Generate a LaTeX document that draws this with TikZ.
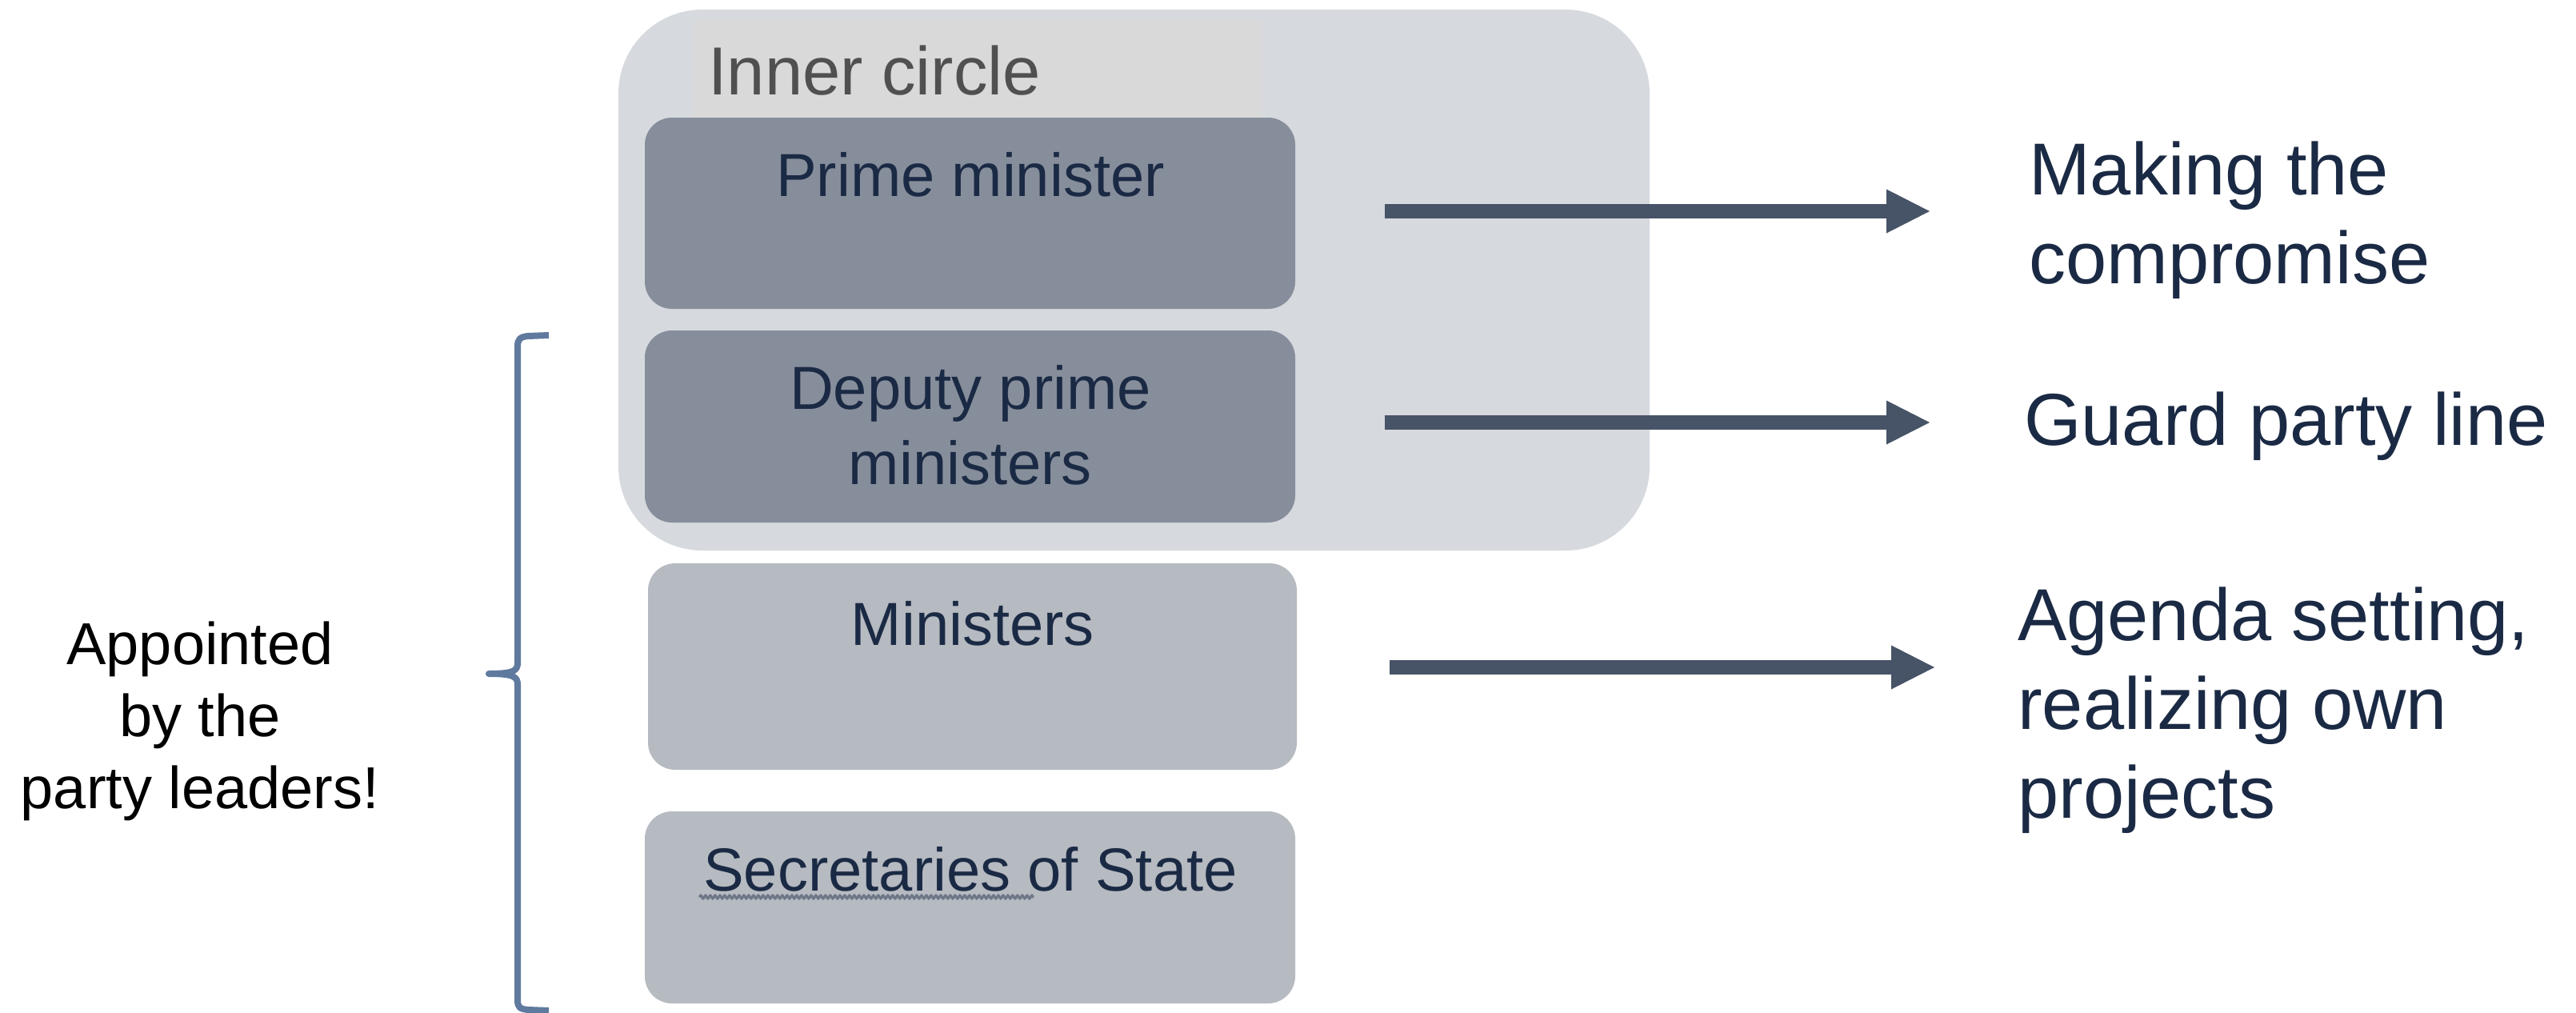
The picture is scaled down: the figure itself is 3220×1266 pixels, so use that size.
\documentclass[tikz,border=0pt]{standalone}
\usepackage{fontspec}
\setmainfont{Liberation Sans}
\usetikzlibrary{arrows.meta,decorations.pathmorphing}
\definecolor{outerbg}{HTML}{D6D9DE}
\definecolor{labelbg}{HTML}{D9D9D9}
\definecolor{darkbox}{HTML}{878E9B}
\definecolor{lightbox}{HTML}{B6BAC1}
\definecolor{navy}{HTML}{1B2A44}
\definecolor{arrowc}{HTML}{475366}
\definecolor{bracec}{HTML}{5F7A9E}
\definecolor{labelgray}{HTML}{505050}
\definecolor{squigc}{HTML}{6E7787}
\begin{document}
\begin{tikzpicture}[x=1pt,y=-1pt,
  panel/.style={rectangle, inner sep=0pt, outer sep=0pt, anchor=north west, draw=none},
  rolebox/.style={panel, rounded corners=34pt, minimum width=813pt},
  roletext/.style={inner sep=0pt, anchor=base, align=center, text=navy, font=\fontsize{76}{94}\selectfont},
  restext/.style={inner sep=0pt, anchor=base west, align=left, text=navy, font=\fontsize{92}{111}\selectfont},
  arr/.style={draw=arrowc, line width=18pt, -{Triangle[length=54pt, width=55pt, line width=0pt]}, fill=arrowc},
  bracestyle/.style={draw=bracec, line width=8pt, line join=round, line cap=butt}
]
\useasboundingbox (0,0) rectangle (3220,1266);
\fill[white] (0,0) rectangle (3220,1266);

% inner circle panel
\node[panel, rounded corners=105pt, fill=outerbg, minimum width=1289pt, minimum height=676pt] (inner) at (773,12) {};
\node[panel, fill=labelbg, minimum width=711pt, minimum height=122pt] (innerlbl) at (867,25) {};
\node[inner sep=0pt, anchor=base west, text=labelgray, font=\fontsize{85}{100}\selectfont] (innertext) at (885,118) {Inner circle};

% role boxes
\node[rolebox, fill=darkbox, minimum height=239pt] (pm) at (806,147) {};
\node[rolebox, fill=darkbox, minimum height=240pt] (dpm) at (806,413) {};
\node[rolebox, fill=lightbox, minimum width=811pt, minimum height=258pt] (min) at (810,704) {};
\node[rolebox, fill=lightbox, minimum height=240pt] (sec) at (806,1014) {};

% (anchor=base of a multi-line node = baseline of its last line)
\node[roletext] (pmt) at (1213,245) {Prime minister};
\node[roletext] (dpmt) at (1213,605) {Deputy prime\\ministers};
\node[roletext] (mint) at (1216,806) {Ministers};
\node[roletext] (sect) at (1213,1113) {Secretaries of State};
\draw[decorate, decoration={snake, amplitude=2pt, segment length=6pt}, draw=squigc, line width=3pt] (874,1121) -- (1292,1121);

% results
\node[restext] (r1) at (2536,354) {Making the\\compromise};
\node[restext] (r2) at (2530,556) {Guard party line};
\node[restext] (r3) at (2522,1022) {Agenda setting,\\realizing own\\projects};

% arrows
\coordinate (a1s) at (1731,264);
\coordinate (a1e) at (2412,264);
\coordinate (a2s) at (1731,528);
\coordinate (a2e) at (2412,528);
\coordinate (a3s) at (1737,834);
\coordinate (a3e) at (2418,834);
\draw[arr] (a1s) -- (a1e);
\draw[arr] (a2s) -- (a2e);
\draw[arr] (a3s) -- (a3e);

% brace
\draw[bracestyle] (686,419) -- (660,420) .. controls (650,421) and (647,424) .. (647,433)
  -- (647,828) .. controls (647,838) and (643,842) .. (611,842)
  .. controls (643,842) and (647,846) .. (647,856)
  -- (647,1250) .. controls (647,1259) and (650,1261) .. (660,1262) -- (686,1263);

% appointed
\node[inner sep=0pt, anchor=base, align=center, font=\fontsize{74}{90}\selectfont] (appt) at (250,1010) {Appointed\\by the\\party leaders!};
\end{tikzpicture}
\end{document}
